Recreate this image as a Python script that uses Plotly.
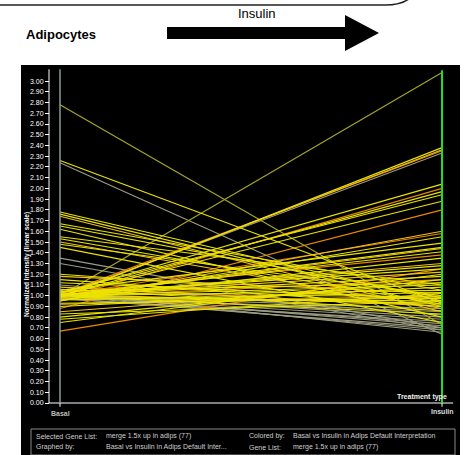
import plotly.graph_objects as go

# ---------------- data ----------------
conditions = ["Basal", "Insulin"]
basal = [2.78, 2.26, 2.24, 1.78, 1.76, 1.74, 1.67, 1.65, 1.62, 1.55,
         1.53, 1.50, 1.48, 1.45, 1.35, 1.30, 1.20, 1.18, 1.15, 1.10,
         1.00, 0.98, 0.99, 1.01, 1.00, 1.02, 0.97, 1.00, 1.03, 0.88,
         1.00, 0.95, 1.05, 0.99, 1.00, 1.02, 0.96, 1.00, 0.67, 0.75,
         0.80, 0.85, 1.00, 1.00, 0.98, 1.01, 1.00, 0.99, 1.02, 1.00,
         0.97, 1.00, 1.01, 0.98, 1.00, 1.03, 0.93, 0.92, 0.90, 0.78,
         0.83, 1.00, 1.00, 1.01, 1.00, 0.99, 1.06, 1.08, 1.12, 1.00,
         1.00, 1.02, 0.96, 1.04, 1.00, 0.95, 1.00]
insulin = [0.73, 0.93, 0.64, 0.95, 0.90, 0.85, 1.05, 0.98, 0.80, 1.10,
           0.92, 0.88, 1.00, 0.75, 0.70, 0.68, 0.95, 1.02, 0.90, 0.82,
           3.08, 2.38, 2.36, 2.35, 2.33, 2.04, 2.00, 1.97, 1.94, 1.80,
           1.58, 1.55, 1.49, 1.44, 1.41, 1.38, 1.35, 1.30, 1.25, 1.20,
           1.15, 1.12, 1.10, 1.05, 0.95, 0.92, 0.88, 0.85, 0.80, 0.78,
           0.76, 0.74, 0.72, 0.70, 0.68, 0.66, 0.98, 1.00, 1.08, 1.02,
           0.95, 1.18, 1.22, 1.25, 1.28, 1.15, 0.86, 0.90, 0.97, 0.83,
           0.93, 0.99, 1.03, 1.12, 1.45, 1.60, 1.88]
color_class = ["olive", "yellow", "gray", "yellow", "yellow", "gold", "yellow", "yellow", "yellow", "yellow",
               "yellow", "gold", "yellow", "yellow", "gray", "gray", "yellow", "gold", "yellow", "gray",
               "olive", "yellow", "gold", "orange", "gray", "yellow", "orange", "yellow", "yellow", "orange",
               "orange", "yellow", "yellow", "gold", "yellow", "orange", "yellow", "gold", "orange", "yellow",
               "yellow", "gold", "yellow", "yellow", "yellow", "gold", "gray", "gray", "gray", "gray",
               "gray", "gray", "gray", "gray", "gray", "gray", "yellow", "gold", "yellow", "yellow",
               "yellow", "yellow", "gold", "yellow", "yellow", "orange", "yellow", "gold", "yellow", "yellow",
               "yellow", "gold", "yellow", "yellow", "yellow", "gold", "yellow"]
palette = {"yellow": "#ece400", "gold": "#f2c21a", "orange": "#e88a00",
           "olive": "#a8a828", "gray": "#9c9c80"}
ytick_vals = [round(i * 0.1, 2) for i in range(31)]
ytick_text = ["%.2f" % v for v in ytick_vals]

W, H = 465, 455
L, R, T, B = 21, 460, 65, 455


def px(xp):
    return (xp - L) / (R - L)


def py(yp):
    return (B - yp) / (B - T)


fig = go.Figure()
xs = [0, 1]
order = ["gray", "olive", "orange", "gold", "yellow"]
for cls in order:
    xx, yy = [], []
    for b, i, c in zip(basal, insulin, color_class):
        if c == cls:
            xx += [xs[0], xs[1], None]
            yy += [b, i, None]
    fig.add_trace(go.Scatter(x=xx, y=yy, mode="lines",
                             line=dict(color=palette[cls], width=1.1),
                             hoverinfo="skip", showlegend=False))

# free y axis with ticks
fig.add_trace(go.Scatter(x=[None], y=[None], yaxis="y2", showlegend=False))

fig.update_layout(
    width=W, height=H,
    margin=dict(l=L, r=W - R, t=T, b=H - B, pad=0),
    paper_bgcolor="white", plot_bgcolor="black",
    font=dict(family="Liberation Sans, Arial, sans-serif"),
    xaxis=dict(range=[-0.1021, 1.0471], visible=False, fixedrange=True),
    yaxis=dict(range=[-0.4846, 3.150], visible=False, fixedrange=True),
    yaxis2=dict(range=[-0.4846, 3.150], overlaying="y", anchor="free",
                position=px(49), side="left", showline=False, showgrid=False,
                zeroline=False, tickmode="array", tickvals=ytick_vals,
                ticktext=ytick_text, ticks="outside", ticklen=4,
                tickcolor="white", tickwidth=1, fixedrange=True,
                tickfont=dict(color="white", size=7,
                              family="Liberation Sans, Arial, sans-serif")),
)

shapes = []
# y axis line
shapes.append(dict(type="line", xref="x", yref="y", x0=-0.0288, x1=-0.0288,
                   y0=0, y1=3.11, line=dict(color="white", width=1)))
# x axis line
shapes.append(dict(type="line", xref="x", yref="y", x0=-0.0288, x1=1.029,
                   y0=0, y1=0, line=dict(color="white", width=1.2)))
# basal axis
shapes.append(dict(type="line", xref="x", yref="y", x0=0, x1=0, y0=0, y1=3.11,
                   line=dict(color="#8a9a9a", width=1.5)))
# insulin axis
shapes.append(dict(type="line", xref="x", yref="y", x0=1, x1=1, y0=0, y1=3.10,
                   line=dict(color="#22dd22", width=2)))
# small ticks at categories
for xv in xs:
    shapes.append(dict(type="line", xref="x", yref="y", x0=xv, x1=xv, y0=0, y1=-0.035,
                       line=dict(color="white", width=1)))
# footer box
shapes.append(dict(type="rect", xref="paper", yref="paper", x0=px(31), x1=px(455),
                   y0=py(455), y1=py(429), line=dict(color="#8a8a8a", width=1)))
# header border
shapes.append(dict(type="path", xref="paper", yref="paper",
                   path="M %f,%f L %f,%f Q %f,%f %f,%f" % (
                       px(-2), py(5), px(385), py(5), px(402), py(5), px(410), py(-2)),
                   line=dict(color="#222222", width=1.5)))
# big arrow
ax = [167, 345, 345, 379, 345, 345, 167]
ay = [27, 27, 15, 33, 51, 39, 39]
path = "M " + " L ".join("%f,%f" % (px(a), py(b)) for a, b in zip(ax, ay)) + " Z"
shapes.append(dict(type="path", xref="paper", yref="paper", path=path,
                   fillcolor="black", line=dict(color="black", width=0)))
fig.update_layout(shapes=shapes)

ann = []
ann.append(dict(text="<b>Adipocytes</b>", x=px(24), y=py(34), xref="paper", yref="paper",
                xanchor="left", yanchor="middle", showarrow=False,
                font=dict(size=13, color="black")))
ann.append(dict(text="Insulin", x=px(257), y=py(13), xref="paper", yref="paper",
                xanchor="center", yanchor="middle", showarrow=False,
                font=dict(size=13, color="black")))
ann.append(dict(text="<b>Normalized Intensity (linear scale)</b>", x=px(27), y=py(265),
                xref="paper", yref="paper", textangle=-90, showarrow=False,
                xanchor="center", yanchor="middle", font=dict(size=6.5, color="white")))
ann.append(dict(text="<b>Basal</b>", x=0, y=py(413), xref="x", yref="paper",
                showarrow=False, xanchor="center", yanchor="middle",
                font=dict(size=7, color="#bbbbbb")))
ann.append(dict(text="<b>Insulin</b>", x=1, y=py(411), xref="x", yref="paper",
                showarrow=False, xanchor="center", yanchor="middle",
                font=dict(size=7, color="#dddddd")))
ann.append(dict(text="<b>Treatment type</b>", x=px(449), y=py(397), xref="paper", yref="paper",
                showarrow=False, xanchor="right", yanchor="middle",
                font=dict(size=7, color="#eeeeee")))
footer = [("Selected Gene List:", 34, 436), ("Graphed by:", 34, 447),
          ("merge 1.5x up in adips (77)", 104, 436),
          ("Basal vs Insulin in Adips Default Inter...", 104, 447),
          ("Colored by:", 247, 436), ("Gene List:", 247, 447),
          ("Basal vs Insulin in Adips Default Interpretation", 291, 436),
          ("merge 1.5x up in adips (77)", 291, 447)]
for t, xp, yp in footer:
    ann.append(dict(text=t, x=px(xp), y=py(yp), xref="paper", yref="paper",
                    showarrow=False, xanchor="left", yanchor="middle",
                    font=dict(size=7, color="#cfcfcf")))
fig.update_layout(annotations=ann)

fig.write_html("out.html", config={"displayModeBar": False},
               post_script="document.body.style.margin='0';"
                           "document.body.style.overflow='hidden';")
